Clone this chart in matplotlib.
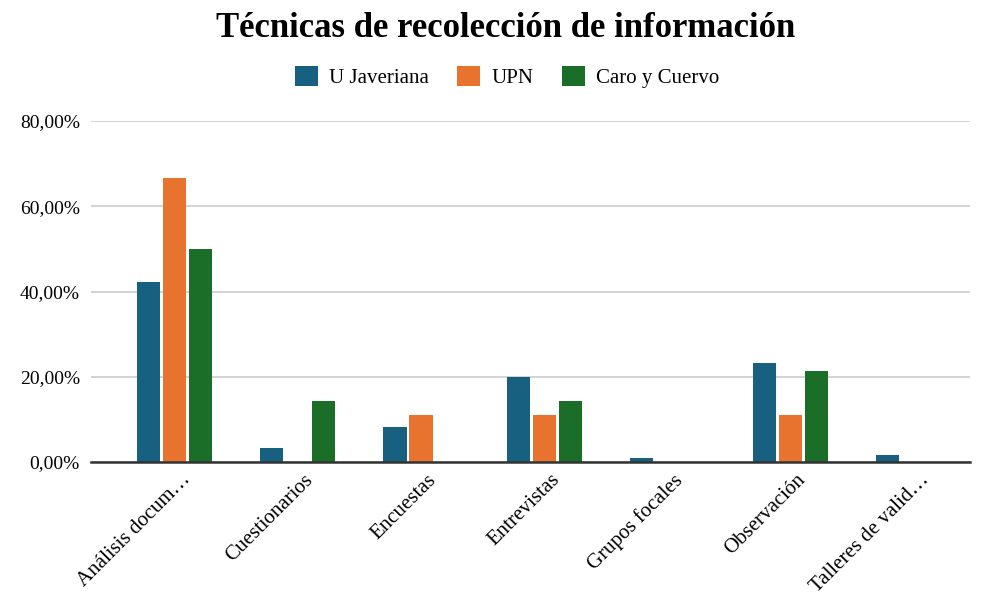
import matplotlib
matplotlib.use("Agg")
import matplotlib.pyplot as plt
import matplotlib.transforms as mtransforms
import numpy as np

# data (percent)
categories = ["Análisis docum…", "Cuestionarios", "Encuestas", "Entrevistas",
              "Grupos focales", "Observación", "Talleres de valid…"]
u_javeriana = [42.2, 3.3, 8.2, 20.0, 0.9, 23.3, 1.6]
upn = [66.67, 0.0, 11.11, 11.11, 0.0, 11.11, 0.0]
caro_cuervo = [50.0, 14.29, 0.0, 14.29, 0.0, 21.43, 0.0]
series_names = ["U Javeriana", "UPN", "Caro y Cuervo"]
colors = ["#17607F", "#E8732F", "#1B6E28"]
yticks = [0, 20, 40, 60, 80]

plt.rcParams["font.family"] = ["Liberation Serif", "DejaVu Serif"]

fig = plt.figure(figsize=(9.85, 5.92), dpi=100)
ax = fig.add_axes([0.0924, 0.2196, 0.8925, 0.576])

x = np.arange(len(categories))
w = 0.187
off = 0.211
for i, (vals, name, c) in enumerate(zip([u_javeriana, upn, caro_cuervo], series_names, colors)):
    ax.bar(x + (i - 1) * off, vals, width=w, color=c, label=name, zorder=3)

ax.set_xlim(-0.68, 6.46)
ax.set_ylim(0, 80)
ax.set_yticks(yticks)
ax.set_yticklabels([f"{v:.2f}%".replace(".", ",") for v in yticks], fontsize=14)
ax.grid(axis="y", color="#cccccc", linewidth=1.2, zorder=0)
ax.set_xticks(x)
ax.set_xticklabels(categories, rotation=45, ha="right", rotation_mode="anchor", fontsize=15)
ax.tick_params(length=0, pad=8)
ax.tick_params(axis="x", pad=6)
# nudge the rotated labels a little to the right, like the original
shift = mtransforms.ScaledTranslation(0.06, 0.0, fig.dpi_scale_trans)
for lbl in ax.get_xticklabels():
    lbl.set_transform(lbl.get_transform() + shift)
for s in ["top", "right", "left"]:
    ax.spines[s].set_visible(False)
ax.spines["bottom"].set_color("#333333")
ax.spines["bottom"].set_linewidth(1.8)
ax.spines["bottom"].set_zorder(4)

fig.text(0.513, 0.952, "Técnicas de recolección de información", fontsize=25,
         fontweight="bold", ha="center", va="center")
fig.legend(loc="center", bbox_to_anchor=(0.515, 0.87), ncol=3, frameon=False, fontsize=15,
           handlelength=1.1, handleheight=1.1, columnspacing=1.35, handletextpad=0.55)

fig.savefig("out.png", dpi=100)
